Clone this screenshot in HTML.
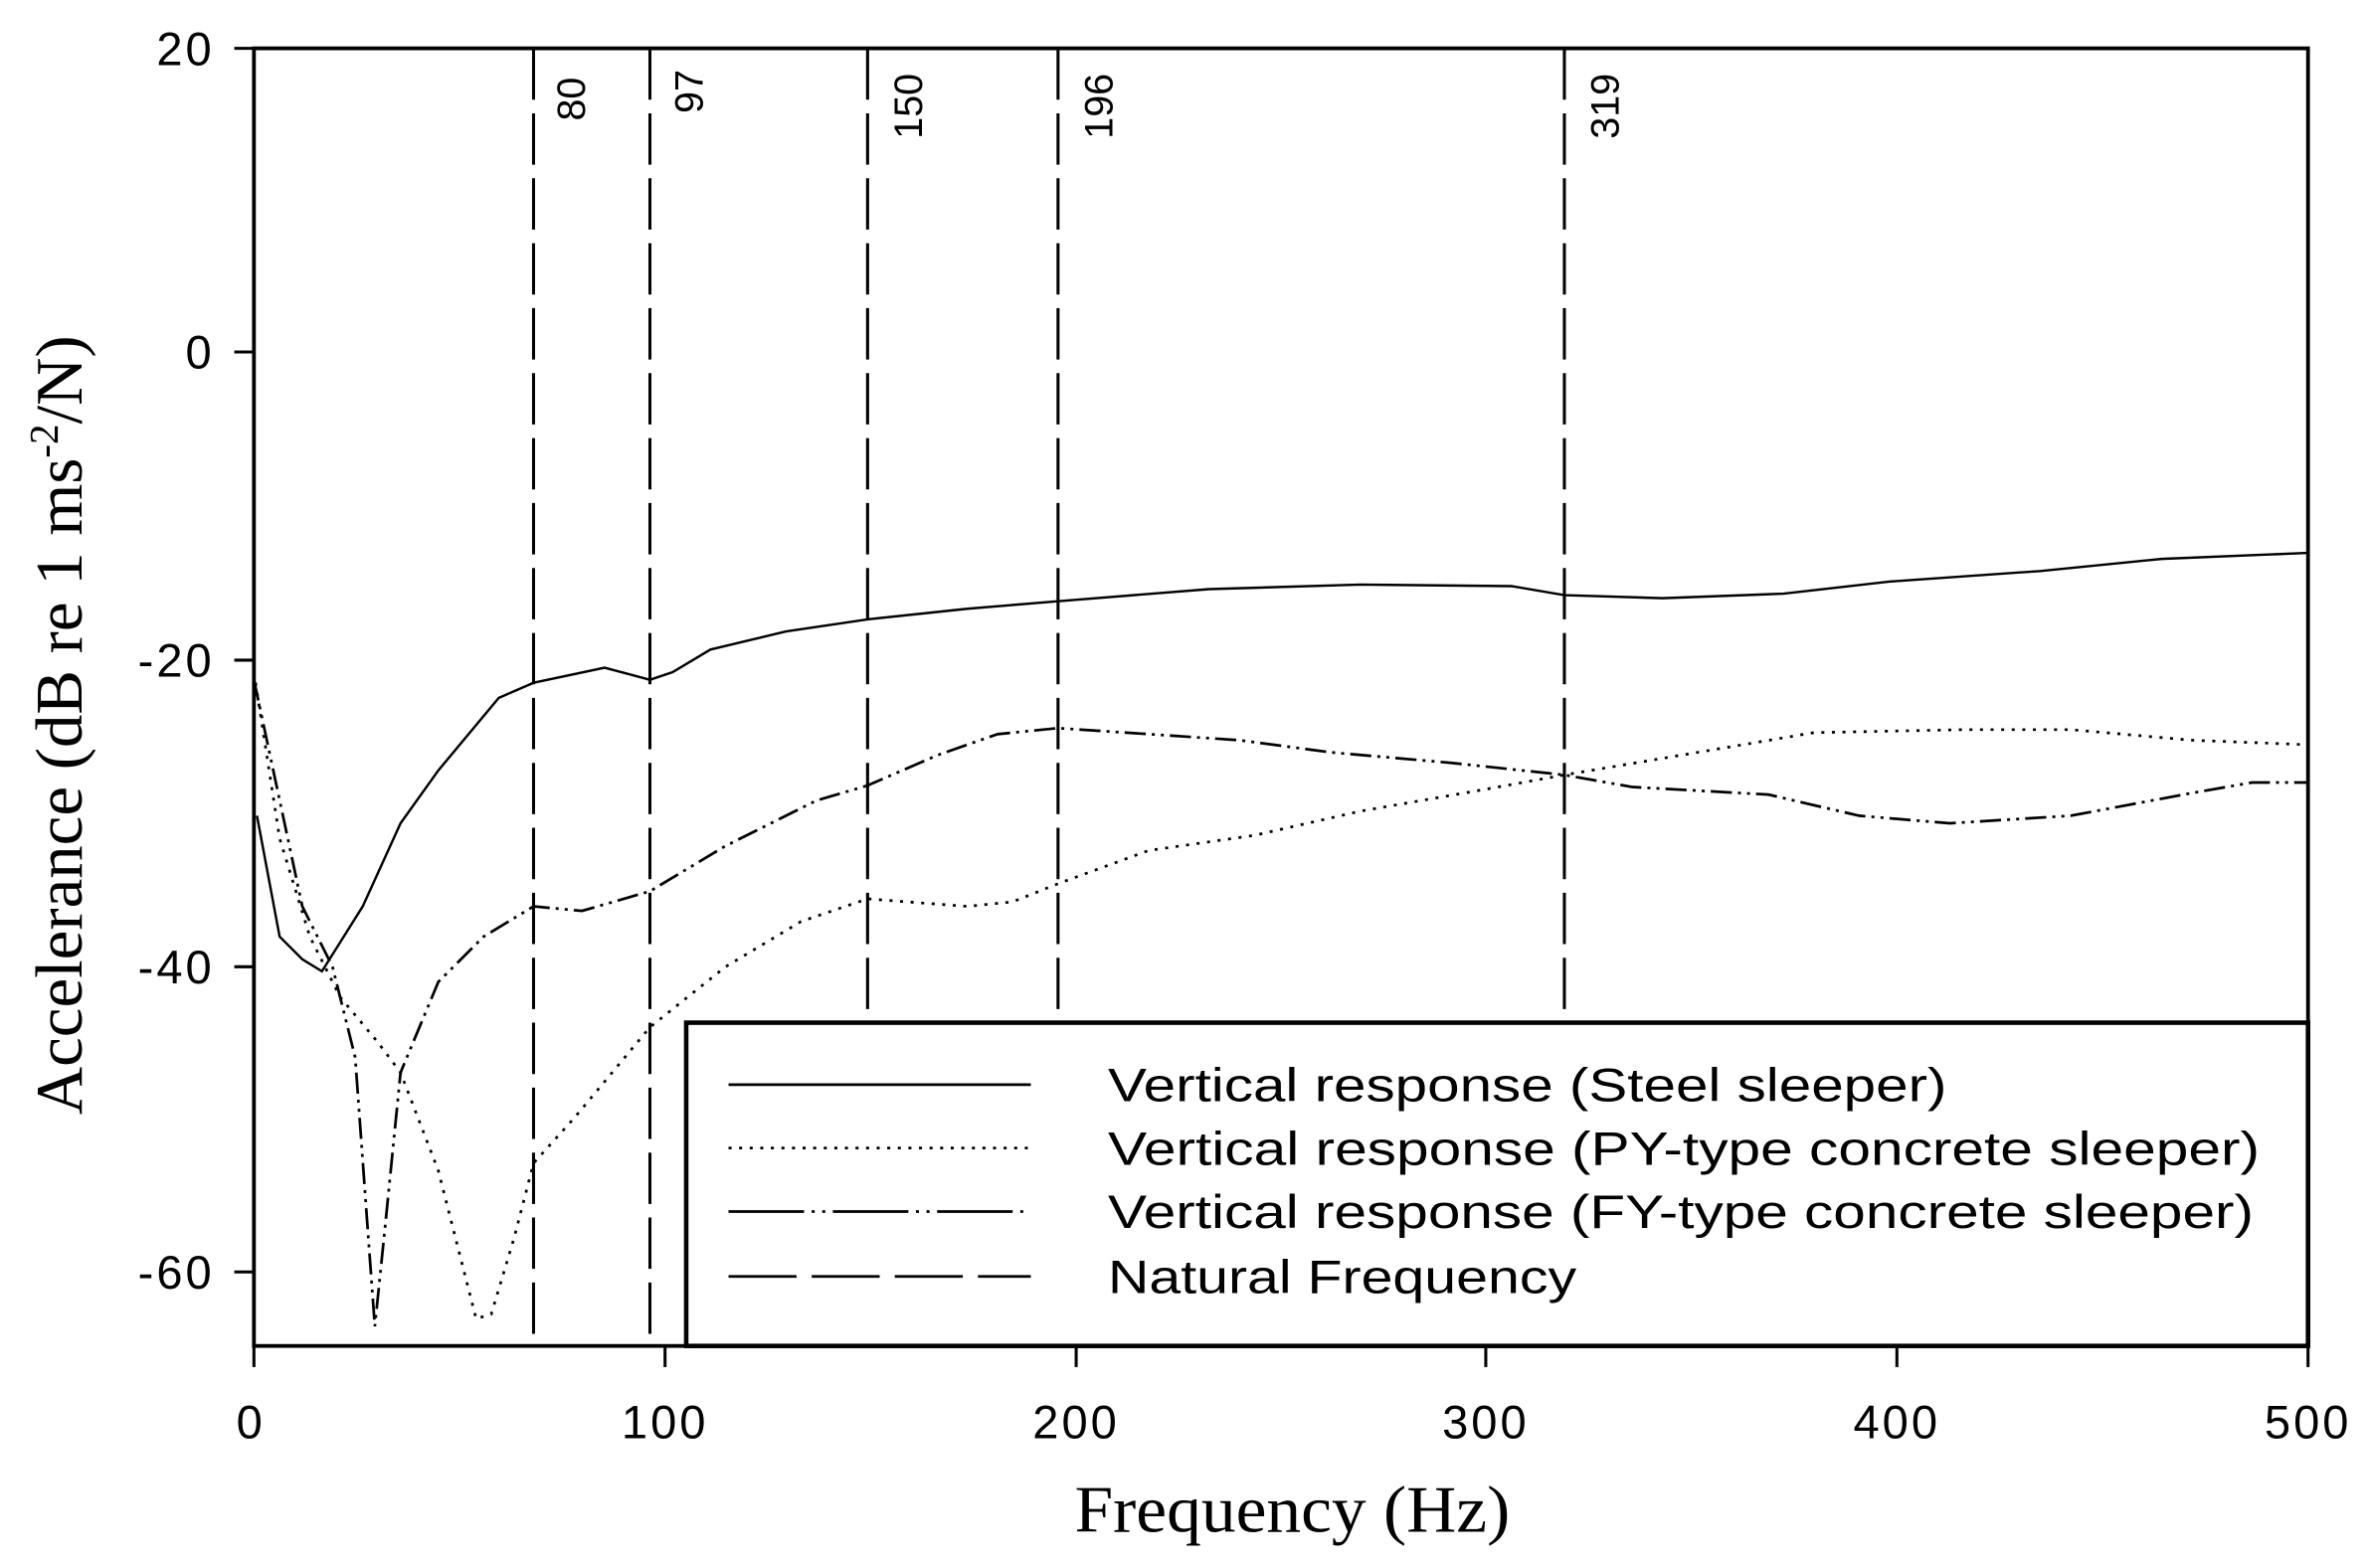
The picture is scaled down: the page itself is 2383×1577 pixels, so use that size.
<!DOCTYPE html>
<html><head><meta charset="utf-8"><style>html,body{margin:0;padding:0;background:#fff}svg{display:block}</style></head>
<body>
<svg width="2383" height="1577" viewBox="0 0 1568 1038" preserveAspectRatio="none" xmlns="http://www.w3.org/2000/svg">
<rect width="1568" height="1038" fill="#fff"/>
<g fill="none" stroke="#000">
<g stroke-width="2" stroke-dasharray="34,9">
<line x1="353" y1="32" x2="353" y2="891"/>
<line x1="430" y1="32" x2="430" y2="891"/>
<line x1="574" y1="32" x2="574" y2="677"/>
<line x1="700" y1="32" x2="700" y2="677"/>
<line x1="1035" y1="32" x2="1035" y2="677"/>
</g>
<polyline stroke-width="1.6" points="170,540 185,620 200,635 213,643 240,600 265,545 290,510 330,462 353,452 400,442 430,450 445,445 470,430 520,418 574,410 640,403 700,398 800,390 900,387 1000,388 1035,394 1100,396 1180,393 1250,385 1350,378 1430,370 1527,366"/>
<polyline stroke-width="1.8" stroke-dasharray="2,5" points="168,445 185,555 205,620 225,660 250,690 265,710 290,775 315,873 325,870 340,820 353,770 380,740 430,680 480,640 530,610 574,595 600,597 640,600 670,597 700,585 760,563 830,553 900,537 980,523 1035,513 1100,502 1200,485 1300,483 1370,483 1450,490 1527,493"/>
<polyline stroke-width="1.8" stroke-dasharray="14,4,2,4,2,4" points="168,450 200,600 220,640 235,700 243,810 248,878 255,810 265,710 290,650 320,620 353,600 385,603 430,590 480,560 540,530 574,520 620,500 660,486 700,482 760,486 820,490 880,498 960,505 1035,513 1080,521 1170,526 1230,540 1290,545 1370,540 1450,525 1490,518 1527,518"/>
<rect x="168" y="32" width="1359" height="859" stroke-width="2.5"/>
<g stroke-width="2">
<line x1="155" y1="32" x2="168" y2="32"/><line x1="155" y1="233" x2="168" y2="233"/><line x1="155" y1="437" x2="168" y2="437"/><line x1="155" y1="640" x2="168" y2="640"/><line x1="155" y1="842" x2="168" y2="842"/>
<line x1="168" y1="891" x2="168" y2="905"/><line x1="440" y1="891" x2="440" y2="905"/><line x1="712" y1="891" x2="712" y2="905"/><line x1="983" y1="891" x2="983" y2="905"/><line x1="1255" y1="891" x2="1255" y2="905"/><line x1="1527" y1="891" x2="1527" y2="905"/>
</g>
<rect x="454" y="677" width="1073" height="214" fill="#fff" stroke-width="3"/>
<line x1="482" y1="718" x2="682" y2="718" stroke-width="1.8"/>
<line x1="482" y1="760" x2="682" y2="760" stroke-width="1.8" stroke-dasharray="2,5"/>
<line x1="482" y1="802" x2="682" y2="802" stroke-width="1.8" stroke-dasharray="50,5,2,5,2,5"/>
<line x1="482" y1="845" x2="682" y2="845" stroke-width="1.8" stroke-dasharray="45,10"/>
</g>
<g font-family="'Liberation Sans',sans-serif" font-size="31" fill="#000">
<text x="733" y="729" textLength="555" lengthAdjust="spacingAndGlyphs">Vertical response (Steel sleeper)</text>
<text x="733" y="771" textLength="762" lengthAdjust="spacingAndGlyphs">Vertical response (PY-type concrete sleeper)</text>
<text x="733" y="813" textLength="758" lengthAdjust="spacingAndGlyphs">Vertical response (FY-type concrete sleeper)</text>
<text x="733" y="856" textLength="310" lengthAdjust="spacingAndGlyphs">Natural Frequency</text>
<g text-anchor="end" letter-spacing="2">
<text x="142" y="43">20</text><text x="142" y="244">0</text><text x="142" y="448">-20</text><text x="142" y="651">-40</text><text x="142" y="853">-60</text>
</g>
<g text-anchor="middle" letter-spacing="2">
<text x="166" y="952">0</text><text x="440" y="952">100</text><text x="712" y="952">200</text><text x="983" y="952">300</text><text x="1255" y="952">400</text><text x="1527" y="952">500</text>
</g>
<g font-size="26">
<text transform="translate(387,80) rotate(-90)">80</text>
<text transform="translate(465,75) rotate(-90)">97</text>
<text transform="translate(610,92) rotate(-90)">150</text>
<text transform="translate(736,92) rotate(-90)">196</text>
<text transform="translate(1071,92) rotate(-90)">319</text>
</g>
</g>
<g font-family="'Liberation Serif',serif" font-size="44" fill="#000">
<text x="855" y="1014" text-anchor="middle" textLength="288" lengthAdjust="spacingAndGlyphs">Frequency (Hz)</text>
<text transform="translate(54,480) rotate(-90)" text-anchor="middle">Accelerance (dB re 1 ms<tspan dy="-16" font-size="27">-2</tspan><tspan dy="16">/N)</tspan></text>
</g>
</svg>
</body></html>
